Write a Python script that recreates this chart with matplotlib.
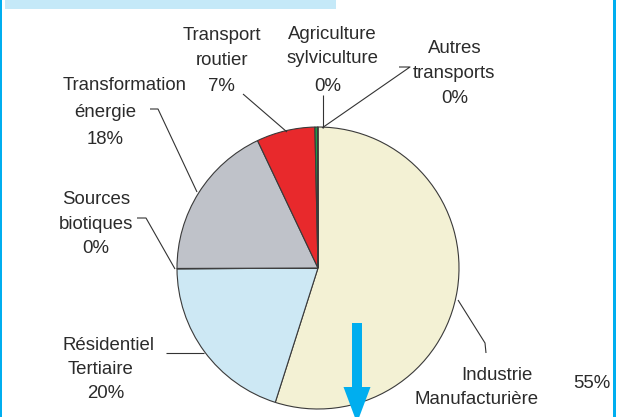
import matplotlib
matplotlib.use("Agg")
import matplotlib.pyplot as plt
from matplotlib.patches import Rectangle, FancyArrow

W, H = 621, 417

categories = ["Industrie\nManufacturière", "Résidentiel\nTertiaire", "Sources\nbiotiques",
              "Transformation\nénergie", "Transport\nroutier", "Agriculture\nsylviculture",
              "Autres\ntransports"]
values = [54.9, 20.0, 0.05, 18.0, 6.7, 0.3, 0.05]
pct_labels = ["55%", "20%", "0%", "18%", "7%", "0%", "0%"]
colors = ["#F3F1D4", "#CDE8F4", "#FFFFFF", "#BFC2C9", "#E8292C", "#1E9B48", "#1F3F8F"]

# label line positions (pixel coords: x, y-from-top) for name lines + pct line
label_pos = [
    [(497, 372), (477, 396), (592, 380)],
    [(108, 342), (101, 367), (106, 390)],
    [(96, 196), (96, 221), (96, 245)],
    [(125, 82), (105, 109), (105, 136)],
    [(222, 32), (222, 57), (221, 83)],
    [(332, 31), (333, 55), (328, 83)],
    [(455, 45), (454, 70), (455, 95)],
]
leaders = [
    [(458, 300), (485, 343), (486, 353)],
    [(166, 353), (204, 353)],
    [(137, 218), (146, 218), (175, 269)],
    [(150, 109), (158, 109), (197, 192)],
    [(243, 94), (287, 132)],
    [(323, 95), (323, 128)],
    [(399, 67), (410, 67), (322, 128)],
]


def Y(y):
    return H - y


fig = plt.figure(figsize=(W / 100, H / 100), dpi=100)
ax = fig.add_axes([0, 0, 1, 1])

ax.pie(values, colors=colors, startangle=90, counterclock=False,
       center=(318, Y(268)), radius=141,
       wedgeprops=dict(edgecolor="#3a3a3a", linewidth=0.8))

txt_kw = dict(fontfamily="Liberation Sans", fontsize=13.4, color="#2b2b2b",
              ha="center", va="center_baseline")
for cat, pct, pos in zip(categories, pct_labels, label_pos):
    lines = cat.split("\n") + [pct]
    for line, (x, y) in zip(lines, pos):
        ax.text(x, Y(y) - 1, line, **txt_kw)

for pts in leaders:
    ax.plot([p[0] for p in pts], [Y(p[1]) for p in pts], color="#333333", lw=0.8,
            solid_capstyle="butt")

# decorations
ax.add_patch(Rectangle((0, 0), 2.3, H, color="#00AEEF", lw=0, zorder=5))
ax.add_patch(Rectangle((613, 0), 2.8, H, color="#00AEEF", lw=0, zorder=5))
ax.add_patch(Rectangle((5, Y(9)), 331, 9, color="#C5E9F8", lw=0, zorder=5))
ax.add_patch(FancyArrow(357, Y(323), 0, -100, width=10, head_width=27,
                        head_length=36, length_includes_head=True,
                        color="#00AEEF", lw=0, zorder=6))

ax.set_xlim(0, W)
ax.set_ylim(0, H)
ax.set_aspect("auto")
ax.axis("off")

fig.savefig("out.png", dpi=100)
